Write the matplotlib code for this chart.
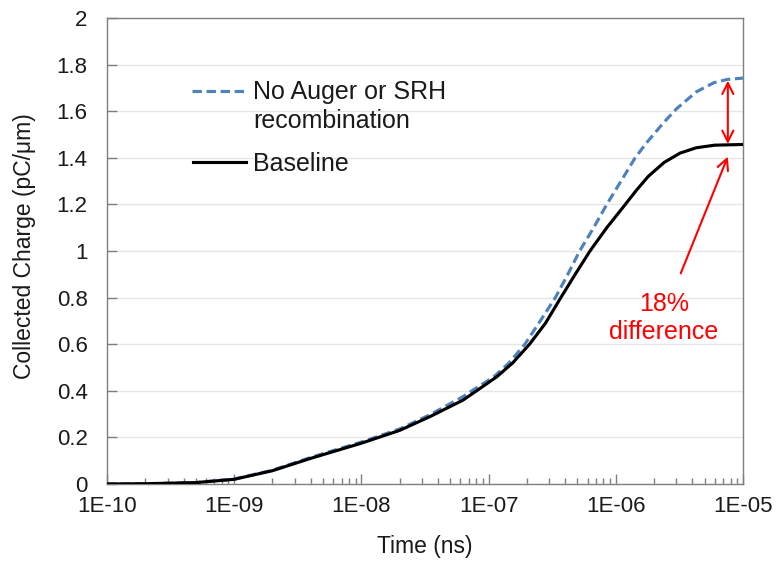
import numpy as np
import matplotlib
matplotlib.use('Agg')
import matplotlib.pyplot as plt
from matplotlib.ticker import FixedLocator, FuncFormatter, LogLocator, NullFormatter

plt.rcParams['font.family'] = ['Liberation Sans', 'DejaVu Sans']

# time (ns) and collected charge (pC/um)
t_base = [1e-10, 2e-10, 5e-10, 1e-9, 2e-9, 4e-9, 1e-8, 2e-8, 3.46e-8, 6.3e-8, 8.05e-8,
          1.16e-7, 1.55e-7, 2.1e-7, 2.8e-7, 3.7e-7, 4.8e-7, 6.27e-7, 8.5e-7, 1.15e-6,
          1.45e-6, 1.8e-6, 2.4e-6, 3.2e-6, 4.3e-6, 6e-6, 1e-5]
q_base = [0.0, 0.001, 0.006, 0.02, 0.057, 0.11, 0.175, 0.23, 0.289, 0.36, 0.40,
          0.46, 0.52, 0.6, 0.69, 0.8, 0.9, 1.0, 1.10, 1.19,
          1.26, 1.32, 1.38, 1.42, 1.443, 1.454, 1.457]

t_noaug = [1e-10, 2e-10, 5e-10, 1e-9, 2e-9, 4e-9, 1e-8, 2e-8, 3.46e-8, 6.3e-8, 7.4e-8,
           1.1e-7, 1.45e-7, 1.93e-7, 2.55e-7, 3.35e-7, 4.2e-7, 5.2e-7, 6.7e-7, 8.5e-7,
           1.1e-6, 1.42e-6, 1.75e-6, 2.37e-6, 3.0e-6, 4.3e-6, 5.9e-6, 7.5e-6, 1e-5]
q_noaug = [0.0, 0.001, 0.006, 0.021, 0.059, 0.114, 0.18, 0.236, 0.297, 0.375, 0.40,
           0.46, 0.52, 0.6, 0.7, 0.8, 0.9, 1.0, 1.1, 1.2,
           1.3, 1.4, 1.465, 1.55, 1.61, 1.683, 1.722, 1.736, 1.742]

x_ticks = [1e-10, 1e-9, 1e-8, 1e-7, 1e-6, 1e-5]
y_ticks = [0, 0.2, 0.4, 0.6, 0.8, 1, 1.2, 1.4, 1.6, 1.8, 2]

label_noaug = ['No Auger or SRH', 'recombination']
label_base = 'Baseline'
note_lines = ['18%', 'difference']

arrow_x = 7.6e-6
diff_top = 1.731
diff_bottom = 1.459

blue = '#4f81bd'
txt_col = '#1a1a1a'

fig = plt.figure(figsize=(7.78, 5.61), dpi=100)
ax = fig.add_axes([0.1375, 0.1373, 0.8175, 0.8307])

ax.plot(t_noaug, q_noaug, color=blue, lw=2.25, ls=(0, (3.0, 1.5)), zorder=3)
ax.plot(t_base, q_base, color='black', lw=2.25, zorder=4)

ax.set_xscale('log')
ax.set_xlim(1e-10, 1e-5)
ax.set_ylim(0, 2)
ax.xaxis.set_major_locator(FixedLocator(x_ticks))
ax.xaxis.set_major_formatter(FuncFormatter(lambda v, p: '1E-%02d' % round(-np.log10(v))))
ax.xaxis.set_minor_locator(LogLocator(base=10, subs=np.arange(2, 10), numticks=20))
ax.xaxis.set_minor_formatter(NullFormatter())
ax.yaxis.set_major_locator(FixedLocator(y_ticks))
ax.yaxis.set_major_formatter(FuncFormatter(lambda v, p: '%g' % v))

ax.grid(axis='y', color='#e6e6e6', lw=1.0)
ax.set_axisbelow(True)
for s in ax.spines.values():
    s.set_color('#7f7f7f')
    s.set_linewidth(1.0)
ax.tick_params(axis='both', which='major', direction='in', length=7, width=1,
               color='#7f7f7f', labelsize=16, labelcolor=txt_col)
ax.tick_params(axis='x', which='major', pad=9)
ax.tick_params(axis='y', which='major', pad=14)
ax.tick_params(axis='x', which='minor', direction='in', length=4, width=1, color='#7f7f7f')

ax.set_xlabel('Time (ns)', fontsize=16.5, color=txt_col)
ax.set_ylabel('Collected Charge (pC/\u03bcm)', fontsize=16.5, color=txt_col)
ax.xaxis.set_label_coords(0.5, -0.11)
ax.yaxis.set_label_coords(-0.112, 0.51)

# legend drawn in axes coordinates (handle sits on first line of its label)
ax.plot([0.1336, 0.2217], [0.844, 0.844], transform=ax.transAxes, color=blue,
        lw=2.25, ls=(0, (3.0, 1.5)), clip_on=False)
ax.plot([0.1352, 0.2185], [0.690, 0.690], transform=ax.transAxes, color='black',
        lw=2.25, clip_on=False)
ax.text(0.2296, 0.826, label_noaug[0], transform=ax.transAxes, fontsize=18,
        color=txt_col, va='baseline', ha='left')
ax.text(0.2296, 0.763, label_noaug[1], transform=ax.transAxes, fontsize=18,
        color=txt_col, va='baseline', ha='left')
ax.text(0.2296, 0.672, label_base, transform=ax.transAxes, fontsize=18,
        color=txt_col, va='baseline', ha='left')

# red annotation arrows
ax.annotate('', xy=(arrow_x, diff_top), xytext=(arrow_x, diff_bottom),
            arrowprops=dict(arrowstyle='<->', color='red', lw=1.5, mutation_scale=20,
                            shrinkA=0, shrinkB=0))
ax.annotate('', xy=(arrow_x, 1.405), xytext=(3.24e-6, 0.904),
            arrowprops=dict(arrowstyle='->', color='red', lw=1.5, mutation_scale=20,
                            shrinkA=0, shrinkB=0))
ax.text(2.39e-6, 0.742, note_lines[0], color='red', fontsize=18, ha='center', va='baseline')
ax.text(2.39e-6, 0.621, note_lines[1], color='red', fontsize=18, ha='center', va='baseline')

fig.savefig('out.png', dpi=100)
